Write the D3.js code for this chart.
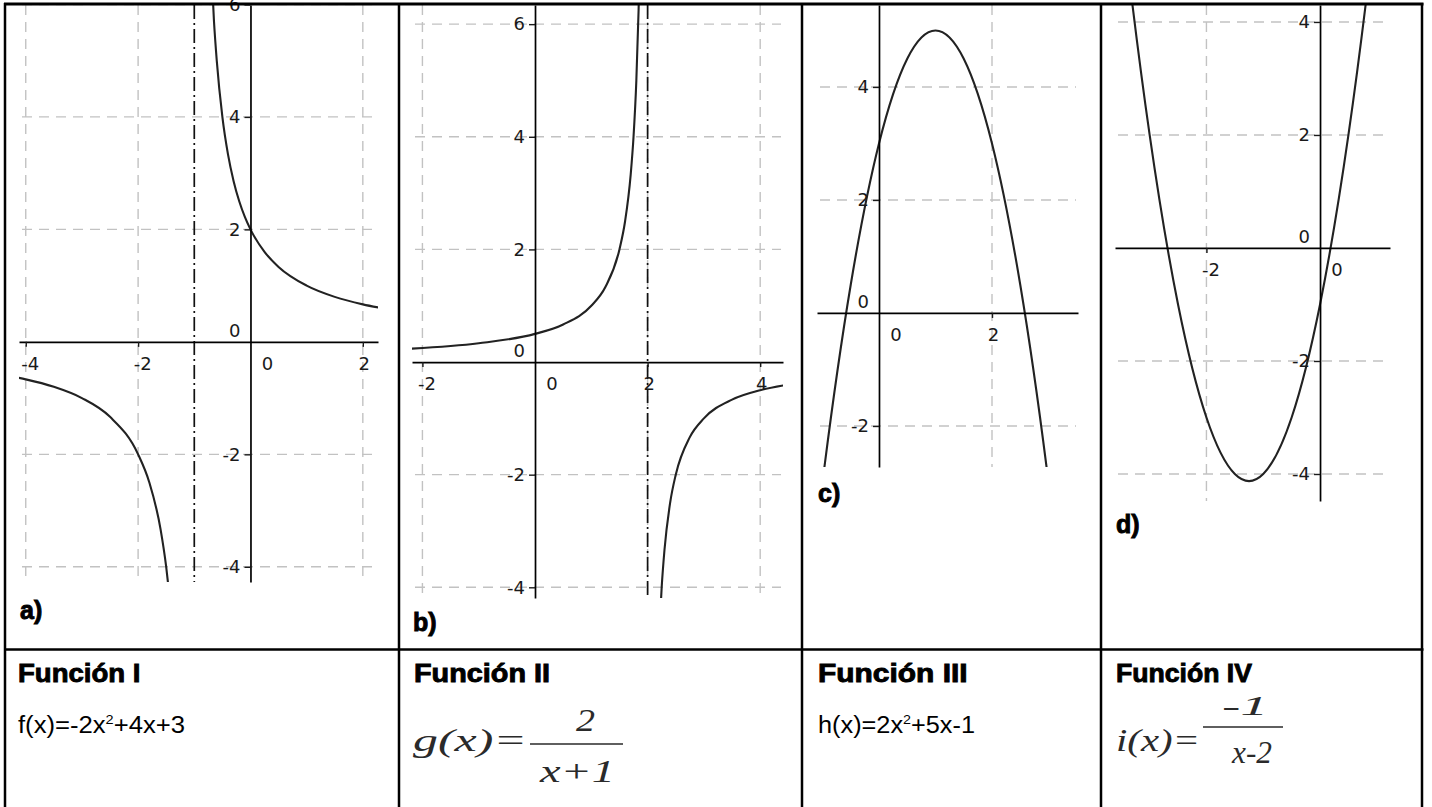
<!DOCTYPE html>
<html><head><meta charset="utf-8">
<script src="https://cdn.jsdelivr.net/npm/d3@7"></script>
<style>body{margin:0;background:#fff}svg{display:block}</style>
</head><body>
<svg id="c" width="1432" height="807"></svg>
<script>
// ---------- data ----------
const panelNames = ["a)", "b)", "c)", "d)"];
const funcTitles = ["Función I", "Función II", "Función III", "Función IV"];

// visible axis extents of each graph
const xDomains = [[-4.12, 2.27], [-2.185, 4.405], [-1.097, 3.522], [-3.61, 1.232]];
const yDomains = [[-4.27, 5.99], [-4.19, 6.34], [-2.726, 5.45], [-4.478, 4.30]];
const xTicks = [[-4, -2, 0, 2], [-2, 0, 2, 4], [0, 2], [-2, 0]];
const yTicks = [[-4, -2, 0, 2, 4, 6], [-4, -2, 0, 2, 4, 6], [-2, 0, 2, 4], [-4, -2, 0, 2, 4]];
const asymptotes = [[-1], [2], [], []];

// a) hyperbola, two branches
const aLeftX  = [-4.2, -4, -3.5, -3, -2.5, -2, -1.8, -1.6, -1.5, -1.45];
const aLeftY  = [-0.625, -0.667, -0.8, -1, -1.333, -2, -2.5, -3.333, -4, -4.444];
const aRightX = [-0.72, -0.65, -0.6, -0.5, -0.4, -0.3, -0.2, -0.1, 0, 0.25, 0.5, 1, 1.5, 2, 2.35];
const aRightY = [7.14, 5.71, 5, 4, 3.333, 2.857, 2.5, 2.222, 2, 1.6, 1.333, 1, 0.8, 0.667, 0.597];
// b) hyperbola, two branches
const bLeftX  = [-2.3, -1, 0, 0.5, 1, 1.25, 1.5, 1.6, 1.7, 1.75, 1.8, 1.84, 1.86];
const bLeftY  = [0.233, 0.333, 0.5, 0.667, 1, 1.333, 2, 2.5, 3.333, 4, 5, 6.25, 7.14];
const bRightX = [2.21, 2.25, 2.3, 2.4, 2.5, 2.75, 3, 3.5, 4, 4.5];
const bRightY = [-4.76, -4, -3.333, -2.5, -2, -1.333, -1, -0.667, -0.5, -0.4];
// c) downward parabola
const cX = [-1.5, -1, -0.5, 0, 0.5, 1, 1.5, 2, 2.5, 3, 3.5];
const cY = [-7.5, -3, 0.5, 3, 4.5, 5, 4.5, 3, 0.5, -3, -7.5];
// d) upward parabola
const dX = [-4, -3.5, -3, -2.5, -2, -1.5, -1, -0.5, 0, 0.5, 1, 1.5];
const dY = [11, 6, 2, -1, -3, -4, -4, -3, -1, 2, 6, 11];

// ---------- layout ----------
const rects = [
  {l: 19, r: 378, t: 5, b: 582},
  {l: 412, r: 783, t: 5, b: 598},
  {l: 817, r: 1078, t: 5, b: 467},
  {l: 1115, r: 1390, t: 5, b: 501}
];
const labelPos = [[20, 619], [413, 631], [818, 502], [1116, 533]];
const curveSets = [
  [[aLeftX, aLeftY, "m"], [aRightX, aRightY, "m"]],
  [[bLeftX, bLeftY, "m"], [bRightX, bRightY, "m"]],
  [[cX, cY, "c"]],
  [[dX, dY, "c"]]
];

const svg = d3.select("#c");
const defs = svg.append("defs");
const fmt = d => String(d);
const TICK_FONT = "DejaVu Sans", TICK_SIZE = 18, TICK_COL = "#1a1a1a";

rects.forEach((R, i) => {
  const x = d3.scaleLinear().domain(xDomains[i]).range([R.l, R.r]);
  const y = d3.scaleLinear().domain(yDomains[i]).range([R.b, R.t]);
  defs.append("clipPath").attr("id", "clip" + i)
    .append("rect").attr("x", R.l).attr("y", R.t).attr("width", R.r - R.l).attr("height", R.b - R.t);
  const g = svg.append("g");
  const inner = g.append("g").attr("clip-path", "url(#clip" + i + ")");

  // grid
  inner.selectAll(".vg").data(xTicks[i].filter(v => v !== 0)).join("line")
    .attr("x1", d => x(d)).attr("x2", d => x(d)).attr("y1", R.t).attr("y2", R.b)
    .attr("stroke", "#c2c2c2").attr("stroke-width", 1.4).attr("stroke-dasharray", "10,7");
  inner.selectAll(".hg").data(yTicks[i].filter(v => v !== 0)).join("line")
    .attr("y1", d => y(d)).attr("y2", d => y(d)).attr("x1", R.l + 3).attr("x2", R.r - 2)
    .attr("stroke", "#c2c2c2").attr("stroke-width", 1.4).attr("stroke-dasharray", "10,7");

  // asymptotes
  inner.selectAll(".as").data(asymptotes[i]).join("line")
    .attr("x1", d => x(d)).attr("x2", d => x(d)).attr("y1", R.t).attr("y2", R.b)
    .attr("stroke", "#111").attr("stroke-width", 1.7).attr("stroke-dasharray", "14,4,2,4");

  // axes
  const xa = g.append("g").attr("transform", `translate(0,${y(0)})`)
    .call(d3.axisBottom(x).tickValues(xTicks[i].filter(v => v !== 0)).tickSize(5)
      .tickSizeOuter(0).tickPadding(10).tickFormat(fmt));
  const ya = g.append("g").attr("transform", `translate(${x(0)},0)`)
    .call(d3.axisLeft(y).tickValues(yTicks[i].filter(v => v !== 0)).tickSize(6)
      .tickSizeOuter(0).tickPadding(4).tickFormat(fmt));
  [xa, ya].forEach(a => {
    a.attr("font-family", TICK_FONT).attr("font-size", TICK_SIZE).style("color", TICK_COL);
    a.select(".domain").attr("stroke", "#000").attr("stroke-width", 1.7);
    a.selectAll(".tick line").attr("stroke-width", 1.4);
  });
  xa.selectAll(".tick text").attr("x", d => d < 0 ? 4 : 1);
  // origin labels
  g.append("text").attr("x", x(0) + 17).attr("y", y(0) + 15).attr("dy", "0.71em")
    .attr("text-anchor", "middle").attr("font-family", TICK_FONT).attr("font-size", TICK_SIZE)
    .attr("fill", TICK_COL).text("0");
  g.append("text").attr("x", x(0) - 10).attr("y", y(0) - 11).attr("dy", "0.32em")
    .attr("text-anchor", "end").attr("font-family", TICK_FONT).attr("font-size", TICK_SIZE)
    .attr("fill", TICK_COL).text("0");

  // curves
  curveSets[i].forEach(([xs, ys, kind]) => {
    const pts = xs.map((v, k) => [v, ys[k]]);
    const line = d3.line().x(d => x(d[0])).y(d => y(d[1]))
      .curve(kind === "m" ? d3.curveMonotoneX : d3.curveCardinal.tension(0));
    inner.append("path").attr("d", line(pts)).attr("fill", "none")
      .attr("stroke", "#222").attr("stroke-width", 2.1);
  });

  // panel label
  svg.append("text").attr("x", labelPos[i][0]).attr("y", labelPos[i][1])
    .attr("font-family", "Liberation Sans").attr("font-weight", "bold").attr("font-size", 25)
    .attr("fill", "#000").attr("stroke", "#000").attr("stroke-width", 0.9)
    .text(panelNames[i]);
});

// ---------- bottom row ----------
const titleX = [18, 414, 818, 1116];
funcTitles.forEach((t, i) => {
  svg.append("text").attr("x", titleX[i]).attr("y", 682)
    .attr("font-family", "Liberation Sans").attr("font-weight", "bold").attr("font-size", 26)
    .attr("fill", "#000").attr("stroke", "#000").attr("stroke-width", 0.9)
    .attr("textLength", t.length * 13.6).attr("lengthAdjust", "spacingAndGlyphs")
    .text(t);
});

function polyText(xp, txtA, sup, txtB, len) {
  const t = svg.append("text").attr("x", xp).attr("y", 733)
    .attr("font-family", "Liberation Sans").attr("font-size", 23).attr("fill", "#000")
    .attr("textLength", len).attr("lengthAdjust", "spacingAndGlyphs");
  t.append("tspan").text(txtA);
  t.append("tspan").attr("dy", -9).attr("font-size", 13).text(sup);
  t.append("tspan").attr("dy", 9).text(txtB);
}
polyText(18, "f(x)=-2x", "2", "+4x+3", 167);
polyText(818, "h(x)=2x", "2", "+5x-1", 157);

function serif(xp, yp, s, len, size) {
  svg.append("text").attr("x", xp).attr("y", yp)
    .attr("font-family", "Liberation Serif").attr("font-style", "italic").attr("font-size", size || 32)
    .attr("fill", "#2a2a2a")
    .attr("textLength", len).attr("lengthAdjust", "spacingAndGlyphs").text(s);
}
// g(x) = 2 / (x+1)
serif(413, 751, "g(x)=", 114);
svg.append("line").attr("x1", 530).attr("x2", 623).attr("y1", 744).attr("y2", 744)
  .attr("stroke", "#2a2a2a").attr("stroke-width", 1.6);
serif(576, 731, "2", 19);
serif(540, 782, "x+1", 75);
// i(x) = -1 / (x-2)
serif(1116, 751, "i(x)=", 84);
svg.append("line").attr("x1", 1203).attr("x2", 1283).attr("y1", 727).attr("y2", 727)
  .attr("stroke", "#2a2a2a").attr("stroke-width", 1.6);
serif(1222, 715, "-1", 46, 27);
serif(1232, 763, "x-2", 40);

// ---------- table borders ----------
const vLines = [5, 399, 802, 1101, 1422];
svg.selectAll(".vb").data(vLines).join("line")
  .attr("x1", d => d).attr("x2", d => d).attr("y1", 3).attr("y2", 807)
  .attr("stroke", "#000").attr("stroke-width", 2.5);
svg.selectAll(".hb").data([4, 649.5]).join("line")
  .attr("x1", 4).attr("x2", 1423.5).attr("y1", d => d).attr("y2", d => d)
  .attr("stroke", "#000").attr("stroke-width", d => d < 10 ? 3 : 2.5);
</script>
</body></html>
